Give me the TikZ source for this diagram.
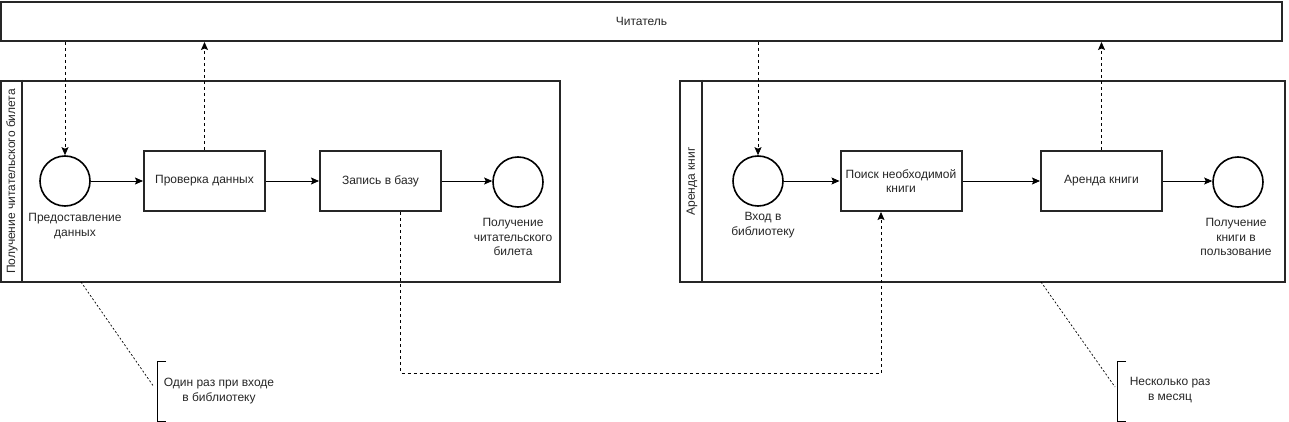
\documentclass[tikz,border=0pt]{standalone}
\usepackage{fontspec}
\setmainfont{Liberation Sans}
\usetikzlibrary{arrows.meta,calc}
\begin{document}
\begin{tikzpicture}[x=1pt,y=-1pt,
  font=\fontsize{12}{14.5}\selectfont,
  every node/.style={text=black!85},
  box/.style={draw=black!85,line width=2pt,fill=white,minimum width=121pt,minimum height=60pt,align=center,inner sep=2pt},
  ev/.style={draw=black,line width=1.6pt,circle,minimum size=50pt,inner sep=0pt},
  pool/.style={draw=black!85,line width=2pt,minimum width=#1,minimum height=201pt,inner sep=0pt},
  lbl/.style={align=center,inner sep=0pt},
  flow/.style={line width=0.8pt,-{Stealth[length=8pt,width=7pt,inset=1.5pt]}},
  msg/.style={line width=0.8pt,dash pattern=on 3pt off 3pt,-{Stealth[length=8pt,width=7pt,inset=1.5pt]}},
  ann/.style={line width=0.7pt,dash pattern=on 2pt off 2pt},
  brk/.style={line width=1pt}]
\useasboundingbox (0,0) rectangle (1289,422);

% Participant
\node[draw=black!85,line width=2pt,minimum width=1281pt,minimum height=39pt,inner sep=0pt] (reader) at (641.5,21.5) {Читатель};

% Pool 1
\node[pool=559pt] (pool1) at (280.5,181.5) {};
\draw[line width=2pt,draw=black!85] ([xshift=22pt]pool1.north west) -- ([xshift=22pt]pool1.south west);
\node[rotate=90,lbl] (t1) at (12,181.5) {Получение читательского билета};

% Pool 2
\node[pool=605pt] (pool2) at (982.5,181.5) {};
\draw[line width=2pt,draw=black!85] ([xshift=23pt]pool2.north west) -- ([xshift=23pt]pool2.south west);
\node[rotate=90,lbl] (t2) at (692,181.5) {Аренда книг};

% Pool 1 elements
\node[ev] (s1) at (65,181) {};
\node[lbl] (s1l) at (75,226) {Предоставление\\данных};
\node[box] (b1) at (204.5,181) {Проверка данных};
\node[box] (b2) at (380.5,181) {Запись в базу};
\node[ev] (e1) at (518,182) {};
\node[lbl] (e1l) at (513,237) {Получение\\читательского\\билета};

% Pool 2 elements
\node[ev] (s2) at (758,181) {};
\node[lbl] (s2l) at (763,225) {Вход в\\библиотеку};
\node[box] (b3) at (901,181) {Поиск необходимой\\книги};
\node[box] (b4) at (1101.5,181) {Аренда книги};
\node[ev] (e2) at (1238,182) {};
\node[lbl] (e2l) at (1236,237) {Получение\\книги в\\пользование};

% Sequence flows
\draw[flow] (s1) -- (b1);
\draw[flow] (b1) -- (b2);
\draw[flow] (b2.east) -- (e1.west |- b2.east);
\draw[flow] (s2) -- (b3);
\draw[flow] (b3) -- (b4);
\draw[flow] (b4.east) -- (e2.west |- b4.east);

% Message flows
\draw[msg] (reader.south -| s1.north) -- (s1.north);
\draw[msg] (b1.north) -- (b1.north |- reader.south);
\draw[msg] (reader.south -| s2.north) -- (s2.north);
\draw[msg] (b4.north) -- (b4.north |- reader.south);
\draw[msg] ([xshift=20pt]b2.south) -- ++(0,161) -| ([xshift=-20pt]b3.south);

% Annotations
\coordinate (a1) at (81,282);
\coordinate (k1) at (157,361);
\coordinate (k1b) at (157,421);
\draw[ann] (a1) -- (154,387);
\draw[brk] ([xshift=9pt]k1) -- (k1) -- (k1b) -- ([xshift=9pt]k1b);
\node[lbl] (n1) at (219,391) {Один раз при входе\\в библиотеку};

\coordinate (a2) at (1041,282);
\coordinate (k2) at (1117,361);
\coordinate (k2b) at (1117,421);
\draw[ann] (a2) -- (1115,387);
\draw[brk] ([xshift=9pt]k2) -- (k2) -- (k2b) -- ([xshift=9pt]k2b);
\node[lbl] (n2) at (1170,390) {Несколько раз\\в месяц};
\end{tikzpicture}
\end{document}
